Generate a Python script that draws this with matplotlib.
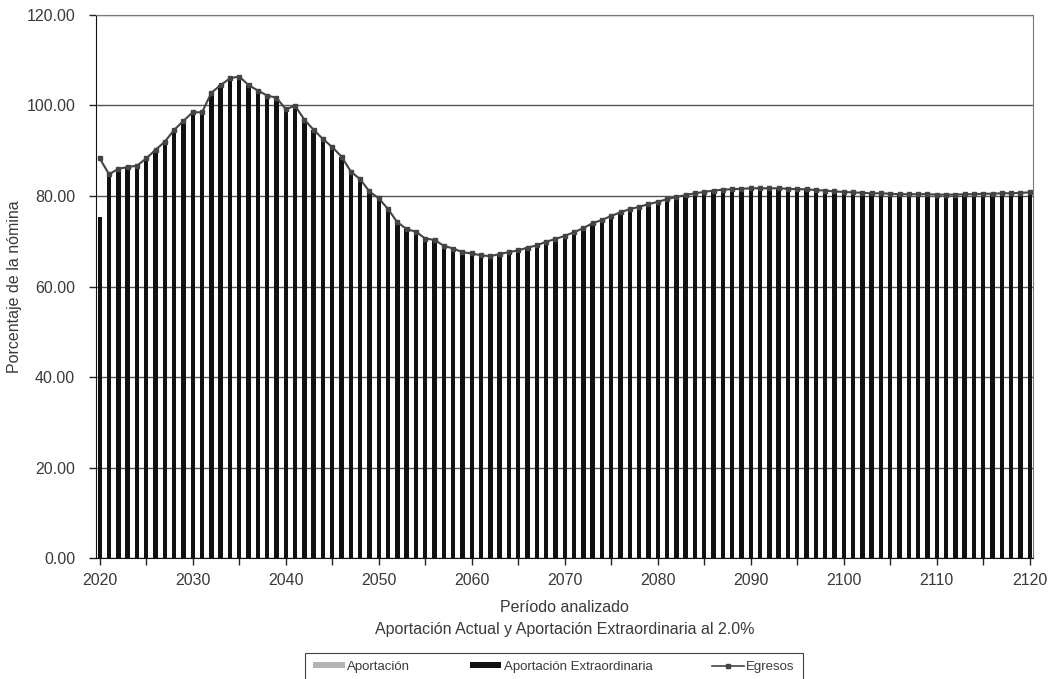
import matplotlib
matplotlib.use('Agg')
import matplotlib.pyplot as plt
from matplotlib.patches import Patch
from matplotlib.lines import Line2D

plt.rcParams['font.family'] = ['Liberation Sans', 'DejaVu Sans']

# years analysed
years = list(range(2020, 2121))

# Egresos, % of payroll
egresos = [
    88.3, 84.8, 86.0, 86.4, 86.7, 88.3, 90.2, 92.0, 94.6, 96.6,   # 2020-2029
    98.5, 98.5, 102.8, 104.5, 106.0, 106.4, 104.5, 103.3, 102.2, 101.7,  # 2030-2039
    99.2, 99.9, 96.9, 94.6, 92.6, 90.8, 88.7, 85.4, 83.7, 81.0,   # 2040-2049
    79.5, 77.1, 74.2, 72.7, 72.1, 70.6, 70.3, 69.0, 68.4, 67.6,   # 2050-2059
    67.3, 66.9, 66.7, 67.2, 67.6, 68.0, 68.6, 69.1, 69.9, 70.5,   # 2060-2069
    71.2, 72.0, 72.9, 74.0, 74.7, 75.6, 76.4, 77.1, 77.6, 78.2,   # 2070-2079
    78.7, 79.3, 79.8, 80.2, 80.6, 80.9, 81.2, 81.4, 81.5, 81.6,   # 2080-2089
    81.7, 81.7, 81.7, 81.7, 81.6, 81.5, 81.5, 81.3, 81.2, 81.0,   # 2090-2099
    80.9, 80.8, 80.7, 80.6, 80.6, 80.5, 80.4, 80.4, 80.4, 80.4,   # 2100-2109
    80.3, 80.3, 80.3, 80.4, 80.4, 80.5, 80.5, 80.6, 80.6, 80.7,   # 2110-2119
    80.8,                                                         # 2120
]

# Aportación (not visible in the chart) and Aportación Extraordinaria
aportacion = [0.0] * len(years)
extraordinaria = [75.4] + egresos[1:]

fig = plt.figure(figsize=(10.53, 6.79), dpi=100)
ax = fig.add_axes([0.0912, 0.178, 0.8898, 0.800])

text_col = '#3a3a3a'

ax.set_axisbelow(True)
ax.yaxis.grid(True, color='#555555', linewidth=1.0)
ax.bar(years, aportacion, width=0.48, color='#b4b4b4', linewidth=0)
ax.bar(years, extraordinaria, width=0.48, bottom=aportacion, color='#111111', linewidth=0)
ax.plot(years, egresos, color='#444444', linewidth=1.5, marker='s', markersize=3.5,
        markerfacecolor='#444444', markeredgecolor='#444444')

ax.set_ylim(0, 120)
ax.set_yticks(range(0, 121, 20))
ax.set_yticklabels(['%.2f' % v for v in range(0, 121, 20)])
ax.set_xlim(2019.6, 2120.35)
ax.set_xticks(range(2020, 2121, 10))
ax.set_xticks(range(2025, 2121, 10), minor=True)
ax.tick_params(axis='both', which='both', direction='out', length=5, width=1,
               labelsize=11.5, labelcolor=text_col, color='#222222')
ax.tick_params(axis='x', pad=6)
ax.tick_params(axis='y', pad=10)

for side in ['top', 'right']:
    ax.spines[side].set_color('#777777')
for side in ['left', 'bottom']:
    ax.spines[side].set_color('#111111')

ax.set_ylabel('Porcentaje de la nómina', fontsize=11.5, color=text_col)
ax.yaxis.set_label_coords(-0.079, 0.5)
ax.set_xlabel('Período analizado\nAportación Actual y Aportación Extraordinaria al 2.0%',
              fontsize=11.5, color=text_col, labelpad=8, linespacing=1.6)

handles = [
    Patch(facecolor='#b4b4b4', edgecolor='none'),
    Patch(facecolor='#111111', edgecolor='none'),
    Line2D([0], [0], color='#444444', linewidth=1.2, marker='s', markersize=3),
]
labels = ['Aportación', 'Aportación Extraordinaria', 'Egresos']
leg = fig.legend(handles, labels, loc='center', bbox_to_anchor=(0.526, 0.018),
                 ncol=3, fontsize=9.5, frameon=True, fancybox=False,
                 handlelength=2.4, handleheight=0.4, columnspacing=4.5,
                 handletextpad=0.2, borderpad=0.6)
leg.get_frame().set_edgecolor('#111111')
leg.get_frame().set_linewidth(0.8)
for t in leg.get_texts():
    t.set_color(text_col)

fig.savefig('out.png', dpi=100)
